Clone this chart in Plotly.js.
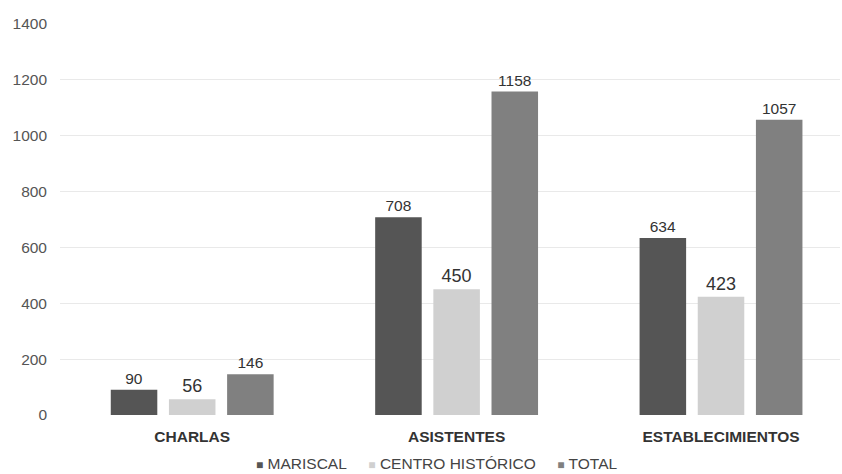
<!DOCTYPE html>
<html>
<head>
<meta charset="utf-8">
<script src="https://cdn.plot.ly/plotly-3.0.1.min.js"></script>
<style>html,body{margin:0;padding:0;background:#fff;}#chart{width:842px;height:474px;}</style>
</head>
<body>
<div id="chart"></div>
<script>
const categories = ["CHARLAS", "ASISTENTES", "ESTABLECIMIENTOS"];
const seriesNames = ["MARISCAL", "CENTRO HISTÓRICO", "TOTAL"];
const mariscal = [90, 708, 634];
const centroHistorico = [56, 450, 423];
const total = [146, 1158, 1057];
const yTicks = [0, 200, 400, 600, 800, 1000, 1200, 1400];

const colors = ["#555555", "#d0d0d0", "#808080"];
const labelSizes = [15.5, 18, 15.5];
const values = [mariscal, centroHistorico, total];
const FONT = "Liberation Sans, Arial, sans-serif";

const traces = values.map((v, i) => ({
  type: "bar",
  name: seriesNames[i],
  x: categories,
  y: v,
  marker: {color: colors[i]},
  text: v.map(String),
  textposition: "outside",
  constraintext: "none",
  cliponaxis: false,
  textfont: {size: labelSizes[i], color: "#333", family: FONT},
  showlegend: false
}));

const legendText = seriesNames.map((n, i) =>
  '<span style="color:' + colors[i] + ';font-size:12px">■</span> ' + n
).join('&nbsp;&nbsp;&nbsp;&nbsp;&nbsp;');

const layout = {
  width: 842, height: 474,
  margin: {l: 60, r: 2, t: 24, b: 59},
  paper_bgcolor: "#fff", plot_bgcolor: "#fff",
  font: {family: FONT, color: "#444", size: 15},
  barmode: "group",
  bargap: 0.34,
  bargroupgap: 0.2,
  showlegend: false,
  annotations: [{
    text: legendText, xref: "paper", yref: "paper", x: 0.483, y: -0.123,
    xanchor: "center", yanchor: "middle", showarrow: false,
    font: {size: 15.5, color: "#444", family: FONT}
  }],
  xaxis: {type: "category", range: [-0.5, 2.45], showgrid: false, zeroline: false,
          showline: false, ticks: "", automargin: false, ticklabelstandoff: 10,
          tickfont: {size: 15.5, color: "#333", weight: "bold"}},
  yaxis: {range: [0, 1400], tickvals: yTicks, ticktext: yTicks.map(String), showgrid: true,
          gridcolor: "#e9e9e9", gridwidth: 1, zeroline: false, showline: false, automargin: false,
          ticks: "", ticklabelstandoff: 12, tickfont: {size: 15.5, color: "#555"}}
};

Plotly.newPlot("chart", traces, layout, {displayModeBar: false, staticPlot: true});
</script>
</body>
</html>
